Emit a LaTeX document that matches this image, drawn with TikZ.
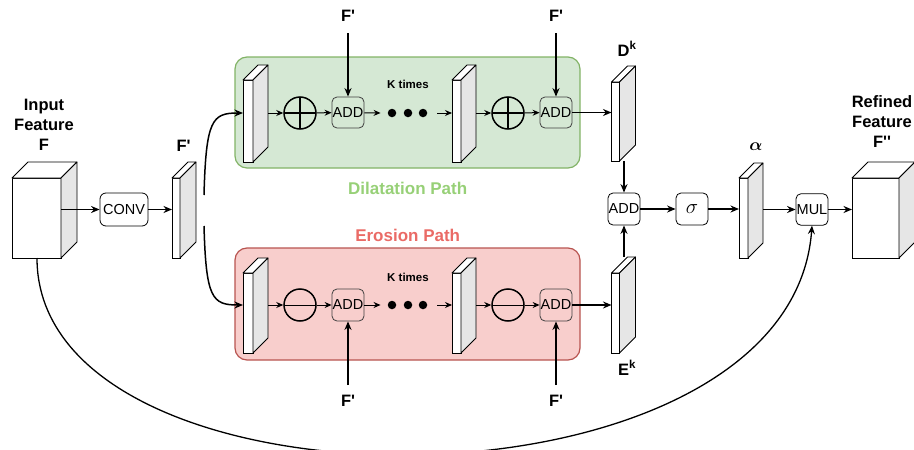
\documentclass[tikz,border=0pt]{standalone}
\usepackage{fontspec}
\setmainfont{Liberation Sans}
\usepackage{amsmath}
\usetikzlibrary{arrows.meta,calc}
\definecolor{sidegray}{HTML}{E6E6E6}
\definecolor{gfill}{HTML}{D5E8D4}
\definecolor{gline}{HTML}{82B366}
\definecolor{rfill}{HTML}{F8CECC}
\definecolor{rline}{HTML}{B85450}
\definecolor{gtext}{HTML}{97D077}
\definecolor{rtext}{HTML}{EA6B66}
\newcommand{\qs}{\textquotesingle}
\begin{document}
\begin{tikzpicture}[x=1pt,y=-1pt,
  face/.style={draw, fill=white, line width=0.8, inner sep=0, outer sep=0},
  opbox/.style={draw, rounded corners=5, minimum width=32, minimum height=32, inner sep=0, line width=0.8, font=\fontsize{14.5}{16}\selectfont},
  pathbox/.style={rounded corners=12, line width=1.2, inner sep=0},
  lbl/.style={font=\fontsize{16.5}{20}\selectfont\bfseries, align=center, inner sep=0},
  pathlbl/.style={font=\fontsize{17}{20}\selectfont\bfseries, inner sep=0, anchor=base},
  ktimes/.style={font=\fontsize{11.5}{13}\selectfont\bfseries, inner sep=0, anchor=base},
  plus/.style={circle, draw, line width=1.5, minimum size=32, inner sep=0,
    path picture={\draw[line width=1.5] (path picture bounding box.north) -- (path picture bounding box.south)
      (path picture bounding box.west) -- (path picture bounding box.east);}},
  minusc/.style={circle, draw, line width=1.5, minimum size=32, inner sep=0,
    path picture={\draw[line width=1] (path picture bounding box.west) -- (path picture bounding box.east);}},
  dot/.style={circle, fill=black, minimum size=8.5, inner sep=0},
  arr/.style={-{Stealth[length=8.5pt,width=7pt]}, line width=1.5},
  arrs/.style={-{Stealth[length=7pt,width=6pt]}, line width=1},
]
\useasboundingbox (0,0) rectangle (914,450);

% path backgrounds
\node[pathbox, draw=gline, fill=gfill, minimum width=345, minimum height=111] (gbox) at (407.5,112.5) {};
\node[pathbox, draw=rline, fill=rfill, minimum width=345, minimum height=112] (rbox) at (407.5,304) {};
\node[pathlbl, text=gtext] (glab) at (407.7,194) {Dilatation Path};
\node[pathlbl, text=rtext] (rlab) at (407.7,241) {Erosion Path};

% front faces of cubes and slabs
\node[face, minimum width=49, minimum height=80] (inF) at (36.5,218) {};
\node[face, minimum width=8, minimum height=80] (fp) at (176,218) {};
\node[face, minimum width=10, minimum height=82] (g1) at (248,121) {};
\node[face, minimum width=9, minimum height=82] (g2) at (456.5,121) {};
\node[face, minimum width=8, minimum height=79] (dk) at (615.5,121.5) {};
\node[face, minimum width=10, minimum height=80] (e1) at (248,313) {};
\node[face, minimum width=9, minimum height=80] (e2) at (456.5,313) {};
\node[face, minimum width=8, minimum height=80] (ek) at (615.5,313) {};
\node[face, minimum width=9, minimum height=80] (al) at (743.5,218) {};
\node[face, minimum width=47, minimum height=80] (outF) at (875.5,218) {};

\foreach \n/\d in {inF/16, fp/16, g1/15, g2/15, dk/16, e1/15, e2/15, ek/16, al/15, outF/16} {
  \draw[fill=white, line width=0.8, line join=round] (\n.north west) -- ++(\d,-\d) -- ($(\n.north east)+(\d,-\d)$) -- (\n.north east) -- cycle;
  \draw[fill=sidegray, line width=0.8, line join=round] (\n.north east) -- ++(\d,-\d) -- ($(\n.south east)+(\d,-\d)$) -- (\n.south east) -- cycle;
  \coordinate (\n-back) at ($(\n.east)+(\d,-\d)$);
  \coordinate (\n-bt) at ($(\n.north)+(\d,-\d)$);
}

% labels
\node[lbl] (inlab) at (44,124.7) {Input\\Feature\\F};
\node[lbl] (outlab) at (882,122) {Refined\\Feature\\F\qs\qs};
\node[lbl, anchor=base] (fplab) at (183.5,151) {F\qs};
\node[lbl, anchor=base] (dklab) at (627,56) {D\textsuperscript{k}};
\node[lbl, anchor=base] (eklab) at (627,375) {E\textsuperscript{k}};
\node[inner sep=0, anchor=base, font=\fontsize{19}{22}\selectfont] (allab) at (756,150.7) {$\boldsymbol{\alpha}$};

% operation boxes
\node[opbox, fill=white, minimum width=48, minimum height=33, rounded corners=6] (conv) at (124,209.5) {CONV};
\node[opbox, fill=white] (add) at (624,209) {ADD};
\node[opbox, fill=white, font=\fontsize{20}{22}\selectfont] (sig) at (692,209) {$\sigma$};
\node[opbox, fill=white, minimum height=31.5] (mul) at (812,209.5) {MUL};

% dilatation row
\node[plus] (gc1) at (300,113) {};
\node[opbox, draw=black!75, minimum height=31] (ga1) at (348,112.5) {ADD};
\node[dot] (gd1) at (392,113) {};
\node[dot] (gd2) at (408,113) {};
\node[dot] (gd3) at (423,113) {};
\node[plus] (gc2) at (508,113) {};
\node[opbox, draw=black!75, minimum height=31] (ga2) at (556,112.5) {ADD};
\node[ktimes] (gk) at (408,88) {K times};

% erosion row
\node[minusc] (ec1) at (300,305) {};
\node[opbox, draw=black!75] (ea1) at (348,305) {ADD};
\node[dot] (ed1) at (392,305) {};
\node[dot] (ed2) at (408,305) {};
\node[dot] (ed3) at (423,305) {};
\node[minusc] (ec2) at (508,305) {};
\node[opbox, draw=black!75] (ea2) at (556,305) {ADD};
\node[ktimes] (ek2) at (408,281.5) {K times};

% F' inputs
\node[lbl, anchor=base] (ft1) at (348,21) {F\qs};
\node[lbl, anchor=base] (ft2) at (556,21) {F\qs};
\node[lbl, anchor=base] (fb1) at (348,406) {F\qs};
\node[lbl, anchor=base] (fb2) at (556,406) {F\qs};
\coordinate (ft1s) at (348,33);
\coordinate (ft2s) at (556,33);
\coordinate (fb1s) at (348,385);
\coordinate (fb2s) at (556,385);
\draw[arr] (ft1s) -- (ga1);
\draw[arr] (ft2s) -- (ga2);
\draw[arr] (fb1s) -- (ea1);
\draw[arr] (fb2s) -- (ea2);

% main flow
\draw[arr] (inF.east |- conv) -- (conv);
\draw[arr] (conv) -- (fp.west |- conv);
\coordinate (fpu) at (204,195);
\coordinate (fpd) at (204,226);
\draw[arr] (fpu) .. controls (206,120) and (212,113) .. (g1.west |- gc1);
\draw[arr] (fpd) .. controls (206,298) and (212,305) .. (e1.west |- ec1);

\draw[arrs] (g1-back |- gc1) -- (gc1);
\draw[arrs] (gc1) -- (ga1);
\draw[arrs] (ga1) -- ([xshift=-7pt]gd1.west);
\draw[arrs] ([xshift=10pt]gd3.east) -- (g2.west |- gc2);
\draw[arrs] (g2-back |- gc2) -- (gc2);
\draw[arrs] (gc2) -- (ga2);
\draw[arr] (ga2) -- (dk.west |- ga2);

\draw[arrs] (e1-back |- ec1) -- (ec1);
\draw[arrs] (ec1) -- (ea1);
\draw[arrs] (ea1) -- ([xshift=-7pt]ed1.west);
\draw[arrs] ([xshift=10pt]ed3.east) -- (e2.west |- ec2);
\draw[arrs] (e2-back |- ec2) -- (ec2);
\draw[arrs] (ec2) -- (ea2);
\draw[arr] (ea2) -- (ek.west |- ea2);

\draw[arr] (dk.south -| add) -- (add);
\draw[arr] (ek-bt -| add) -- (add);
\draw[arr] (add) -- (sig);
\draw[arr] (sig) -- (al.west |- sig);
\draw[arr] (al-back |- mul) -- (mul);
\draw[arr] (mul) -- (outF.west |- mul);

\coordinate (bs) at (37,258);
\draw[arr, line width=1.3] (bs) .. controls (37,525) and (790,525) .. (mul.south);
\end{tikzpicture}
\end{document}
